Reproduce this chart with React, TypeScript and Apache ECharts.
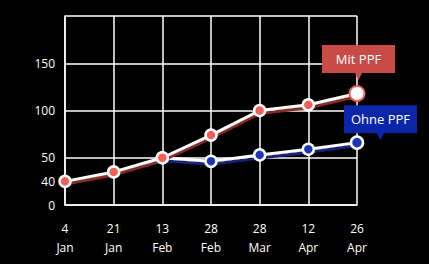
import React, { useEffect, useRef } from "react";
import * as echarts from "echarts";

const categories = ["4\nJan", "21\nJan", "13\nFeb", "28\nFeb", "28\nMar", "12\nApr", "26\nApr"];
const mitPPF = [40, 44, 50, 74, 100, 106, 118];
const ohnePPF: (number | null)[] = [null, null, 50, 48.5, 53, 59, 66];
const yTickValues = [0, 40, 50, 100, 150];
const seriesNames = ["Mit PPF", "Ohne PPF"];

// broken axis: 0-40 compressed, 40-50 stretched, linear above 50
const toAxis = (v: number | null) =>
  v == null ? null : v <= 40 ? (v * 25) / 40 : v <= 50 ? 25 + (v - 40) * 2.5 : v;

const FONT = "'Open Sans', 'Noto Sans', sans-serif";
const boxPath = "path://M0,0 L73,0 L73,28 L40,28 L36.5,35 L33,28 L0,28 Z";

export default function App() {
  const ref = useRef<HTMLDivElement>(null);
  useEffect(() => {
    document.body.style.margin = "0";
    document.body.style.background = "#000";
    const chart = echarts.init(ref.current!, null, { renderer: "svg" });
    const tickMap: Record<string, string> = {};
    yTickValues.forEach((v) => (tickMap[String(toAxis(v))] = String(v)));
    const last = categories.length - 1;
    chart.setOption({
      animation: false,
      backgroundColor: "#000",
      grid: { left: 65, right: 72, top: 16, bottom: 59 },
      xAxis: {
        type: "category",
        data: categories,
        boundaryGap: false,
        axisLine: { show: true, lineStyle: { color: "#fff", width: 1.5 } },
        axisTick: { show: false },
        splitLine: { show: true, lineStyle: { color: "#fff", width: 1.5 } },
        axisLabel: { color: "#fff", fontSize: 12, lineHeight: 19, margin: 14, fontFamily: FONT },
      },
      yAxis: {
        type: "value",
        min: 0,
        max: 200,
        interval: 50,
        axisLine: { show: true, lineStyle: { color: "#fff", width: 1.5 } },
        axisTick: { show: false },
        splitLine: { show: true, lineStyle: { color: "#fff", width: 1.5 } },
        axisLabel: {
          color: "#fff",
          fontSize: 12,
          margin: 10,
          fontFamily: FONT,
          customValues: yTickValues.map((v) => toAxis(v)),
          formatter: (val: number) => tickMap[String(val)] ?? "",
        },
      },
      series: [
        {
          name: seriesNames[1],
          type: "line",
          data: ohnePPF.map((v, i) =>
            i === last
              ? { value: toAxis(v), symbolSize: 12 }
              : toAxis(v)
          ),
          symbol: "circle",
          symbolSize: 11,
          lineStyle: {
            color: "#fff",
            width: 3,
            shadowColor: "#14217a",
            shadowBlur: 1,
            shadowOffsetY: 3,
          },
          itemStyle: { color: "#1c34b8", borderColor: "#fff", borderWidth: 2.5 },
          markPoint: {
            symbol: boxPath,
            symbolSize: [73, 35],
            symbolOffset: [23.5, -20],
            itemStyle: { color: "#0c26aa" },
            label: {
              show: true,
              color: "#fff",
              fontSize: 13,
              fontFamily: FONT,
              offset: [0, -3.5],
              formatter: seriesNames[1],
            },
            data: [{ coord: [last, toAxis(ohnePPF[last])] }],
          },
          z: 2,
        },
        {
          name: seriesNames[0],
          type: "line",
          data: mitPPF.map((v, i) =>
            i === last
              ? {
                  value: toAxis(v),
                  symbolSize: 15,
                  itemStyle: { color: "#fff", borderColor: "#f05a55", borderWidth: 2 },
                }
              : toAxis(v)
          ),
          symbol: "circle",
          symbolSize: 11,
          lineStyle: {
            color: "#fff",
            width: 3,
            shadowColor: "#8a2b27",
            shadowBlur: 1,
            shadowOffsetY: 3,
          },
          itemStyle: { color: "#f35d58", borderColor: "#fff", borderWidth: 2.5 },
          markPoint: {
            symbol: boxPath,
            symbolSize: [73, 35],
            symbolOffset: [1.5, -31],
            itemStyle: { color: "#c84b47" },
            label: {
              show: true,
              color: "#fff",
              fontSize: 13,
              fontFamily: FONT,
              offset: [0, -3.5],
              formatter: seriesNames[0],
            },
            data: [{ coord: [last, toAxis(mitPPF[last])] }],
          },
          z: 3,
        },
      ],
    });
    return () => chart.dispose();
  }, []);
  return <div ref={ref} style={{ width: 429, height: 264, background: "#000" }} />;
}
